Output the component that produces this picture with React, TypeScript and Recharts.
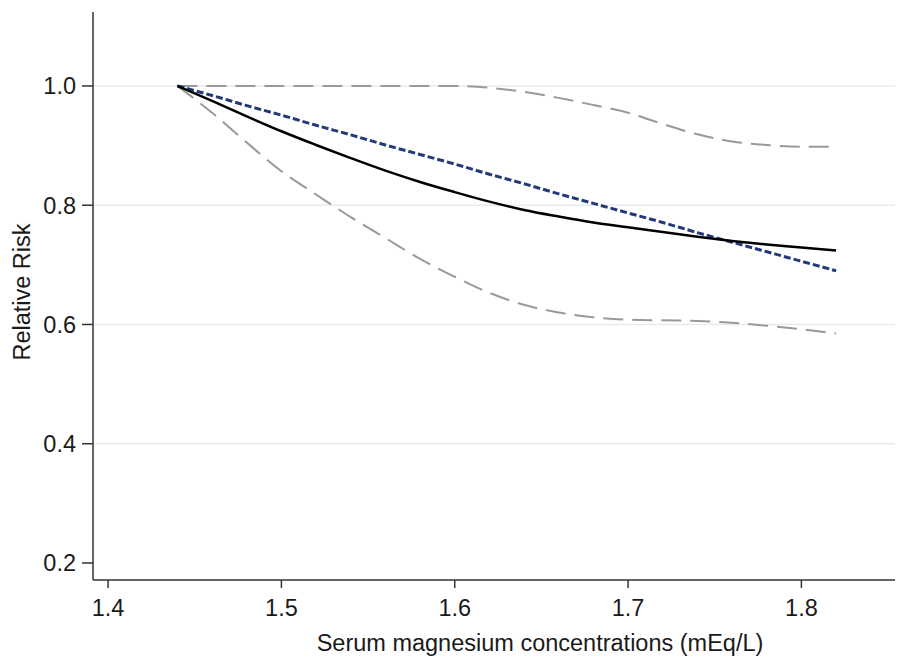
import React from 'react';
import { LineChart, Line, XAxis, YAxis, ReferenceLine, Label } from 'recharts';

// serum magnesium (mEq/L)
const magnesium = [
  1.44, 1.46, 1.48, 1.5, 1.52, 1.54, 1.56, 1.58, 1.6, 1.62,
  1.64, 1.66, 1.68, 1.7, 1.72, 1.74, 1.76, 1.78, 1.8, 1.82,
];
const splineRR = [
  1.0, 0.975, 0.949, 0.924, 0.901, 0.879, 0.858, 0.839, 0.822, 0.806,
  0.792, 0.781, 0.771, 0.763, 0.755, 0.747, 0.74, 0.734, 0.729, 0.724,
];
const linearRR = [
  1.0, 0.984, 0.967, 0.951, 0.934, 0.918, 0.901, 0.885, 0.869, 0.852,
  0.836, 0.819, 0.803, 0.787, 0.771, 0.754, 0.738, 0.722, 0.706, 0.69,
];
const upperCI = [
  1.0, 1.0, 1.0, 1.0, 1.0, 1.0, 1.0, 1.0, 1.0, 0.997,
  0.99, 0.98, 0.968, 0.955, 0.936, 0.919, 0.907, 0.901, 0.898, 0.898,
];
const lowerCI = [
  1.0, 0.955, 0.905, 0.857, 0.818, 0.78, 0.745, 0.71, 0.68, 0.653,
  0.633, 0.62, 0.612, 0.608, 0.607, 0.606, 0.603, 0.598, 0.592, 0.585,
];
const xTicks = [1.4, 1.5, 1.6, 1.7, 1.8];
const yTicks = [0.2, 0.4, 0.6, 0.8, 1.0];
const gridValues = [0.4, 0.6, 0.8, 1.0];

const data = magnesium.map((x, i) => ({
  x,
  spline: splineRR[i],
  linear: linearRR[i],
  upper: upperCI[i],
  lower: lowerCI[i],
}));

const font = '"Liberation Sans", Arial, sans-serif';
const tickStyle = { fontSize: 23.5, fill: '#1a1a1a', fontFamily: font };

export default function App() {
  return (
    <div style={{ width: 897, height: 658 }}>
      <style>{'body{margin:0}'}</style>
      <LineChart
        width={897}
        height={658}
        data={data}
        margin={{ top: 12, right: 2, left: 0, bottom: 0 }}
      >
        {gridValues.map((v) => (
          <ReferenceLine key={v} y={v} stroke="#e8ebee" strokeWidth={1.5} />
        ))}
        <XAxis
          dataKey="x"
          type="number"
          domain={[1.3913, 1.854]}
          ticks={xTicks}
          allowDataOverflow
          height={78}
          tick={tickStyle}
          tickSize={8}
          tickMargin={11}
          tickFormatter={(v) => Number(v).toFixed(1)}
          axisLine={{ stroke: '#333', strokeWidth: 1.5 }}
          tickLine={{ stroke: '#333', strokeWidth: 1.5 }}
        >
          <Label
            value="Serum magnesium concentrations (mEq/L)"
            position="center"
            dx={46}
            dy={24}
            style={{ fontSize: 23.5, fill: '#1a1a1a', fontFamily: font }}
          />
        </XAxis>
        <YAxis
          type="number"
          domain={[0.1715, 1.124]}
          ticks={yTicks}
          allowDataOverflow
          width={93}
          tick={tickStyle}
          tickSize={11}
          tickMargin={6}
          tickFormatter={(v) => Number(v).toFixed(1)}
          axisLine={{ stroke: '#333', strokeWidth: 1.5 }}
          tickLine={{ stroke: '#333', strokeWidth: 1.5 }}
        >
          <Label
            value="Relative Risk"
            angle={-90}
            position="center"
            dx={-25}
            dy={-4}
            style={{ fontSize: 23.5, fill: '#1a1a1a', fontFamily: font, textAnchor: 'middle' }}
          />
        </YAxis>
        <Line
          dataKey="upper"
          type="monotone"
          stroke="#999"
          strokeWidth={2}
          strokeDasharray="20 9"
          dot={false}
          isAnimationActive={false}
        />
        <Line
          dataKey="lower"
          type="monotone"
          stroke="#999"
          strokeWidth={2}
          strokeDasharray="20 9"
          dot={false}
          isAnimationActive={false}
        />
        <Line
          dataKey="linear"
          type="monotone"
          stroke="#22397a"
          strokeWidth={3}
          strokeDasharray="7 3"
          dot={false}
          isAnimationActive={false}
        />
        <Line
          dataKey="spline"
          type="monotone"
          stroke="#000"
          strokeWidth={2.5}
          dot={false}
          isAnimationActive={false}
        />
      </LineChart>
    </div>
  );
}
